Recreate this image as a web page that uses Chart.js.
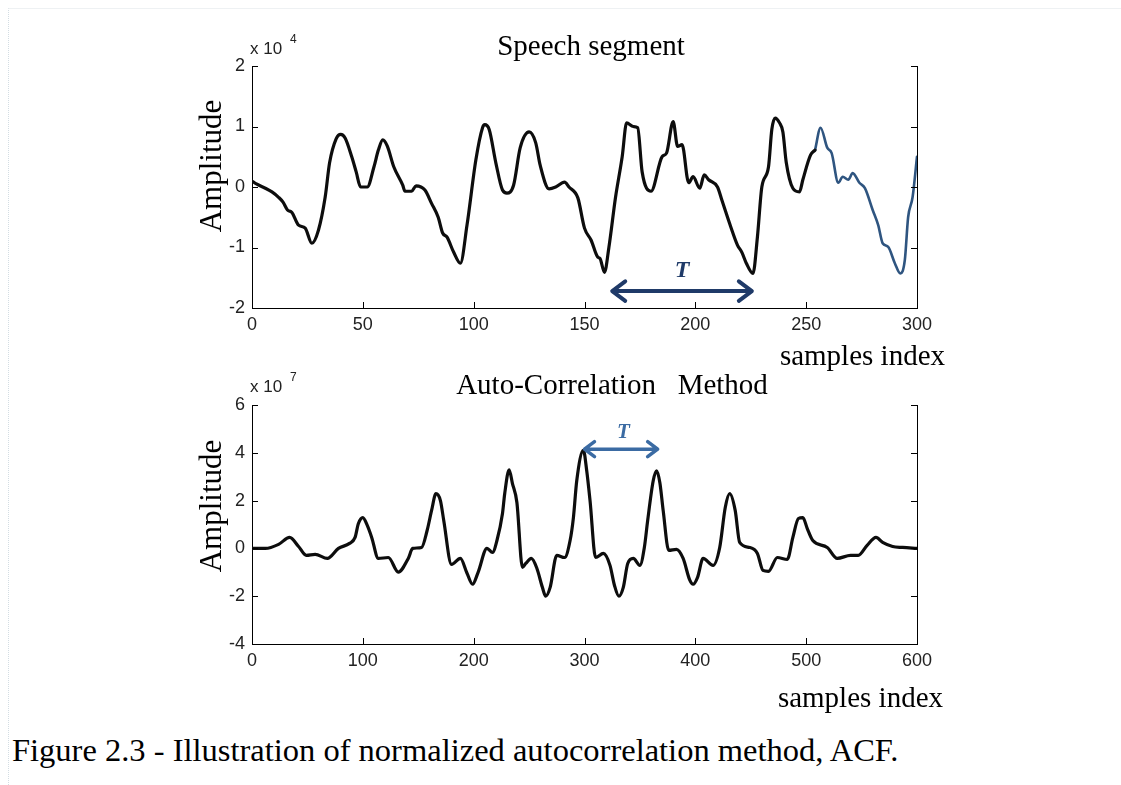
<!DOCTYPE html>
<html>
<head>
<meta charset="utf-8">
<script src="https://cdn.jsdelivr.net/npm/chart.js@4.4.1/dist/chart.umd.min.js"></script>
<style>
  html, body { margin: 0; padding: 0; background: #fff; }
  #page { position: relative; width: 1121px; height: 785px; overflow: hidden; }
  #frame { position: absolute; left: 8px; top: 8px; right: -2px; bottom: -2px; border-left: 1px dotted #d3dde3; border-top: 1px solid #eef1f3; }
  canvas { position: absolute; left: 0; }
  #top { top: 0; }
  #bottom { top: 360px; }
  #caption { position: absolute; left: 12px; top: 732px; font: 32.5px "Liberation Serif", serif; line-height: 36px; color: #000; white-space: nowrap; }
</style>
</head>
<body>
<div id="page">
  <div id="frame"></div>
  <canvas id="top" width="1121" height="372"></canvas>
  <canvas id="bottom" width="1121" height="355"></canvas>
  <div id="caption">Figure 2.3 - Illustration of normalized autocorrelation method, ACF.</div>
</div>
<script>
// speech segment, amplitude in units of 10^4
const speechIdx = [0, 2, 6, 9, 12, 14, 16, 18, 21, 24, 27, 30, 33, 35, 38, 40, 42, 45, 47, 49, 52, 55, 57, 59, 61, 64, 68, 69, 72, 74, 78, 81, 84, 86, 88, 91, 94, 97, 101, 104, 105, 107, 110, 113, 115, 118, 121, 125, 128, 130, 134, 137, 141, 143, 147, 150, 153, 156, 157, 159, 161, 164, 167, 169, 172, 174, 176, 180, 185, 187, 190, 192, 194, 197, 199, 202, 204, 206, 210, 212, 216, 219, 221, 223, 226, 228, 230, 233, 234.5, 236, 238, 239.5, 241, 244, 247, 248.5, 252, 254, 256.5, 259.5, 261.5, 264.5, 266.5, 269, 271, 274, 276.5, 280, 282.5, 284.5, 287, 290, 292.5, 294.5, 296, 298, 300];
const speechAmp = [0.1, 0.05, -0.02, -0.08, -0.17, -0.25, -0.38, -0.42, -0.63, -0.68, -0.93, -0.71, -0.17, 0.4, 0.8, 0.87, 0.81, 0.5, 0.25, 0, 0, 0.33, 0.61, 0.78, 0.68, 0.33, 0.03, -0.07, -0.07, 0.02, -0.05, -0.27, -0.5, -0.76, -0.83, -1.08, -1.26, -0.63, 0.45, 0.98, 1.03, 0.95, 0.4, -0.05, -0.1, 0.03, 0.65, 0.91, 0.73, 0.36, -0.03, 0, 0.08, 0, -0.18, -0.68, -0.88, -1.16, -1.18, -1.41, -1.0, -0.17, 0.5, 1.06, 1.0, 0.98, 0.25, -0.07, 0.5, 0.56, 1.08, 0.67, 0.7, 0.07, 0.17, -0.02, 0.2, 0.12, 0, -0.22, -0.66, -0.96, -1.08, -1.26, -1.43, -0.83, 0, 0.33, 0.95, 1.14, 1.06, 0.91, 0.41, -0.02, -0.08, 0.12, 0.53, 0.61, 0.98, 0.65, 0.56, 0.07, 0.17, 0.12, 0.23, 0.07, -0.02, -0.38, -0.63, -0.93, -0.99, -1.26, -1.43, -1.21, -0.5, -0.17, 0.5];
const blueFrom = 254; // from here on the segment is drawn in blue

// auto-correlation, units of 10^7
const lagIdx = [0, 12, 24, 34, 42, 49, 57, 68, 78, 88, 93, 96, 100, 104, 108, 114, 123, 132, 141, 145, 153, 158, 162, 166, 170, 173, 180, 188, 194, 199, 204, 212, 217, 221, 226, 228, 232, 235, 239, 244, 247, 252, 257, 262, 265, 269, 275, 282, 287, 290, 293, 299, 302, 305, 310, 317, 323, 327, 331, 335, 339, 344, 350, 354, 357, 362, 365, 368, 371, 376, 383, 389, 395, 398, 402, 407, 416, 422, 427, 431, 436, 440, 449, 456, 461, 466, 474, 483, 488, 493, 497, 501, 506, 519, 528, 540, 547, 555, 563, 569, 578, 587, 600];
const acfVal = [0, 0, 0.17, 0.46, 0.08, -0.29, -0.25, -0.42, 0, 0.21, 0.46, 1.04, 1.29, 0.96, 0.46, -0.42, -0.38, -0.99, -0.42, 0, 0.04, 0.75, 1.58, 2.29, 2.0, 1.17, -0.67, -0.42, -1.04, -1.5, -1.0, 0, -0.17, 0.33, 1.46, 2.29, 3.29, 2.71, 1.92, -0.79, -0.63, -0.42, -0.83, -1.63, -2.0, -1.63, -0.29, -0.38, 0.33, 1.29, 2.83, 4.1, 3.25, 2.0, -0.38, -0.21, -0.71, -1.54, -2.0, -1.63, -0.63, -0.42, -0.71, 0.04, 1.17, 2.83, 3.25, 2.75, 1.58, -0.08, -0.04, -0.42, -1.33, -1.5, -1.21, -0.42, -0.71, 0.04, 1.71, 2.29, 1.58, 0.25, 0.04, -0.21, -0.92, -0.96, -0.38, -0.46, 0.46, 1.25, 1.29, 0.83, 0.33, 0.04, -0.42, -0.29, -0.29, 0.13, 0.46, 0.25, 0.08, 0.04, 0];

// one pitch period T marked on each plot
const speechPeriod = [162.5, 225.5];
const acfPeriod = [300, 366];

const toPoints = (xs, ys) => xs.map((v, i) => ({ x: v, y: ys[i] }));
const speechPts = toPoints(speechIdx, speechAmp);
const acfPts = toPoints(lagIdx, acfVal);

const tickFont = { family: '"Liberation Sans", Arial, sans-serif', size: 18 };
const serif = '"Liberation Serif", "Times New Roman", serif';

// matlab style: inward ticks, period arrow and the labels around the axes
const figurePlugin = {
	id: "figure",
	afterDraw(chart, args, o) {
		const ctx = chart.ctx;
		const { left, right, bottom } = chart.chartArea;
		const xs = chart.scales.x;
		const ys = chart.scales.y;
		ctx.save();

		ctx.strokeStyle = "#000";
		ctx.lineWidth = 1;
		ctx.beginPath();
		xs.ticks.forEach((t) => {
			const px = Math.round(xs.getPixelForValue(t.value)) + 0.5;
			ctx.moveTo(px, bottom);
			ctx.lineTo(px, bottom - 6);
		});
		ys.ticks.forEach((t) => {
			const py = Math.round(ys.getPixelForValue(t.value)) + 0.5;
			ctx.moveTo(left, py);
			ctx.lineTo(left + 6, py);
			ctx.moveTo(right, py);
			ctx.lineTo(right - 6, py);
		});
		ctx.stroke();

		// period arrow
		const a = o.arrow;
		const x1 = xs.getPixelForValue(a.span[0]);
		const x2 = xs.getPixelForValue(a.span[1]);
		const ay = ys.getPixelForValue(a.level);
		ctx.strokeStyle = a.color;
		ctx.lineWidth = a.width;
		ctx.lineCap = "round";
		ctx.lineJoin = "round";
		ctx.beginPath();
		ctx.moveTo(x1 + 2, ay);
		ctx.lineTo(x2 - 2, ay);
		ctx.moveTo(x1 + a.head, ay - a.head * 0.75);
		ctx.lineTo(x1, ay);
		ctx.lineTo(x1 + a.head, ay + a.head * 0.75);
		ctx.moveTo(x2 - a.head, ay - a.head * 0.75);
		ctx.lineTo(x2, ay);
		ctx.lineTo(x2 - a.head, ay + a.head * 0.75);
		ctx.stroke();
		ctx.fillStyle = a.color;
		ctx.font = "italic bold " + a.fontSize + "px " + serif;
		ctx.textAlign = "center";
		ctx.textBaseline = "middle";
		ctx.fillText("T", xs.getPixelForValue(a.labelAt[0]), ys.getPixelForValue(a.labelAt[1]));

		// title
		ctx.fillStyle = "#000";
		ctx.font = "29px " + serif;
		ctx.fillText(o.title, o.titlePos[0], o.titlePos[1]);

		// exponent label
		ctx.fillStyle = "#222";
		ctx.textAlign = "left";
		ctx.font = "17px " + tickFont.family;
		ctx.fillText("x 10", o.expPos[0], o.expPos[1]);
		ctx.font = "12px " + tickFont.family;
		ctx.fillText(o.exponent, o.expPos[0] + 40, o.expPos[1] - 9);

		// x label
		ctx.fillStyle = "#000";
		ctx.font = "29px " + serif;
		ctx.textAlign = "right";
		ctx.fillText("samples index", o.xlabelPos[0], o.xlabelPos[1]);

		// y label
		ctx.translate(o.ylabelPos[0], o.ylabelPos[1]);
		ctx.rotate(-Math.PI / 2);
		ctx.textAlign = "center";
		ctx.font = "31px " + serif;
		ctx.fillText("Amplitude", 0, 0);
		ctx.restore();
	},
};

function makePlot(id, datasets, xr, yr, area, fig) {
	const canvas = document.getElementById(id);
	return new Chart(canvas, {
		type: "line",
		data: { datasets: datasets },
		plugins: [figurePlugin],
		options: {
			responsive: false,
			animation: false,
			devicePixelRatio: 1,
			layout: { padding: { top: area.top, right: 1121 - area.right, bottom: 0, left: 0 } },
			plugins: {
				legend: { display: false },
				tooltip: { enabled: false },
				figure: fig,
			},
			elements: {
				point: { radius: 0 },
				line: { borderWidth: 3.2, cubicInterpolationMode: "monotone", borderCapStyle: "round", borderJoinStyle: "round" },
			},
			scales: {
				x: {
					type: "linear",
					min: xr[0],
					max: xr[1],
					ticks: { stepSize: xr[2], font: tickFont, color: "#222", padding: 6, maxRotation: 0 },
					grid: { display: false, drawTicks: false },
					border: { color: "#000", width: 1 },
					afterFit: (s) => { s.height = canvas.height - area.bottom; },
				},
				y: {
					min: yr[0],
					max: yr[1],
					ticks: { stepSize: yr[2], font: tickFont, color: "#222", padding: 7 },
					grid: { display: false, drawTicks: false },
					border: { color: "#000", width: 1 },
					afterFit: (s) => { s.width = area.left; },
				},
				y2: {
					position: "right",
					min: yr[0],
					max: yr[1],
					ticks: { display: false },
					grid: { display: false, drawTicks: false },
					border: { color: "#000", width: 1 },
					afterFit: (s) => { s.width = 0; },
				},
			},
		},
	});
}

makePlot(
	"top",
	[
		{ data: speechPts.filter((p) => p.x <= blueFrom), borderColor: "#0d0d0d" },
		{ data: speechPts.filter((p) => p.x >= blueFrom), borderColor: "#2f5580", borderWidth: 2.6 },
	],
	[0, 300, 50],
	[-2, 2, 1],
	{ left: 252, right: 917, top: 66, bottom: 308 },
	{
		title: "Speech segment",
		titlePos: [591, 47],
		exponent: "4",
		expPos: [250, 49],
		xlabelPos: [945, 357],
		ylabelPos: [213, 166],
		arrow: { span: speechPeriod, level: -1.72, color: "#1f3a68", width: 4, head: 13, labelAt: [194, -1.38], fontSize: 24 },
	}
);

makePlot(
	"bottom",
	[{ data: acfPts, borderColor: "#0d0d0d" }],
	[0, 600, 100],
	[-4, 6, 2],
	{ left: 252, right: 917, top: 45, bottom: 284 },
	{
		title: "Auto-Correlation   Method",
		titlePos: [612, 26],
		exponent: "7",
		expPos: [250, 27],
		xlabelPos: [943, 339],
		ylabelPos: [213, 146],
		arrow: { span: acfPeriod, level: 4.15, color: "#3b6ba3", width: 3.5, head: 10, labelAt: [335, 4.85], fontSize: 21 },
	}
);
</script>
</body>
</html>
